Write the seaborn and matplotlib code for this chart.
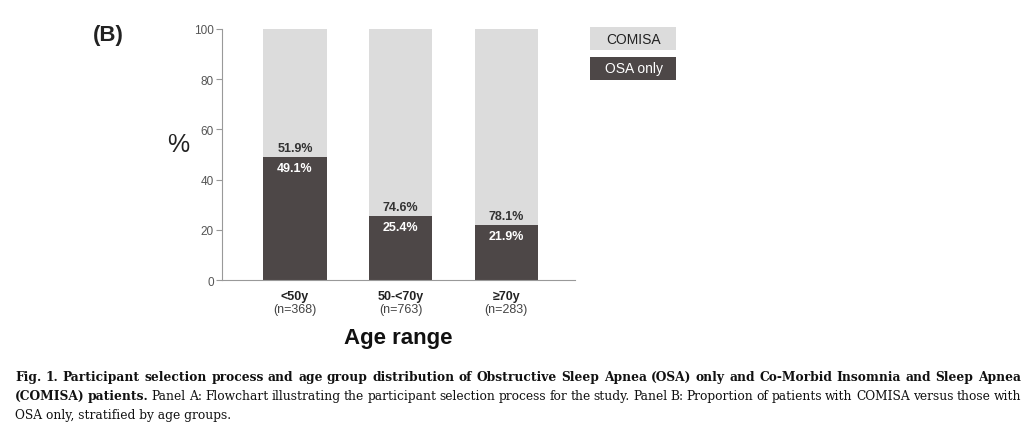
import matplotlib
matplotlib.use("Agg")
import matplotlib.pyplot as plt
from matplotlib.patches import Rectangle
import seaborn as sns
import pandas as pd

# data
groups = ["<50y", "50-<70y", "\u226570y"]
group_n = ["(n=368)", "(n=763)", "(n=283)"]
comisa_pct = [51.9, 74.6, 78.1]
osa_only_pct = [49.1, 25.4, 21.9]

LIGHT = "#dcdcdc"
DARK = "#4d4747"
W, H = 1025, 439

sns.set_style("white")
plt.rcParams["font.family"] = ["Liberation Sans", "DejaVu Sans"]

df = pd.DataFrame({"group": groups, "comisa": comisa_pct, "osa": osa_only_pct})
df["total"] = 100

fig = plt.figure(figsize=(W / 100, H / 100), dpi=100)
ax = fig.add_axes([222 / W, 1 - 281 / H, (575 - 222) / W, (281 - 30) / H])

sns.barplot(data=df, x="group", y="total", color=LIGHT, width=0.6, ax=ax,
            saturation=1, linewidth=0)
sns.barplot(data=df, x="group", y="osa", color=DARK, width=0.6, ax=ax,
            saturation=1, linewidth=0)

ax.set_xlim(-0.69, 2.65)
ax.set_ylim(0, 100)
ax.set_yticks([0, 20, 40, 60, 80, 100])
ax.tick_params(axis="y", length=4, width=0.8, color="#999999", labelsize=8.5,
               labelcolor="#555555", pad=2, left=True)
ax.tick_params(axis="x", length=0, pad=7)
ax.set_xticks(range(len(groups)))
ax.set_xticklabels(groups, fontweight="bold", fontsize=9, color="#222222")
for s in ["top", "right"]:
    ax.spines[s].set_visible(False)
for s in ["left", "bottom"]:
    ax.spines[s].set_color("#999999")
    ax.spines[s].set_linewidth(0.8)

ax.set_xlabel("Age range", fontsize=16, fontweight="bold", labelpad=18,
              color="#111111")
ax.set_ylabel("%", fontsize=18, rotation=0, color="#222222")
ax.yaxis.set_label_coords(-0.125, 0.494)

for i in range(len(groups)):
    b = osa_only_pct[i]
    ax.annotate(f"{comisa_pct[i]:.1f}%", xy=(i, b), xytext=(0, 2),
                textcoords="offset points", ha="center", va="bottom",
                fontsize=9, fontweight="bold", color="#333333")
    ax.annotate(f"{b:.1f}%", xy=(i, b), xytext=(0, -3.5),
                textcoords="offset points", ha="center", va="top",
                fontsize=9, fontweight="bold", color="white")
    ax.annotate(group_n[i], xy=(i, 0), xycoords=("data", "axes fraction"),
                xytext=(0, -21), textcoords="offset points", ha="center",
                va="center", fontsize=9, color="#444444")

fig.text(93 / W, 1 - 35 / H, "(B)", fontsize=16, fontweight="bold",
         ha="left", va="center", color="#222222")

# legend boxes with text inside
for label, col, tcol, top in [("COMISA", LIGHT, "#222222", 28),
                              ("OSA only", DARK, "white", 58)]:
    fig.patches.append(Rectangle((590 / W, 1 - (top + 23) / H), 86 / W, 23 / H,
                                 transform=fig.transFigure, facecolor=col,
                                 edgecolor="none"))
    fig.text(634 / W, 1 - (top + 11.5) / H, label, fontsize=10, color=tcol,
             ha="center", va="center")

# caption
serif = ["DejaVu Serif"]
renderer = fig.canvas.get_renderer()

line3 = "OSA only, stratified by age groups."
probe = fig.text(0, 0, line3, family=serif, fontsize=10)
cap_size = 10 * 217 / probe.get_window_extent(renderer).width
probe.remove()


def justified(words, base_y, x0=15, x1=1021):
    objs = []
    for w, wt in words:
        t = fig.text(0, 1 - base_y / H, w, family=serif, fontsize=cap_size,
                     fontweight=wt, ha="left", va="baseline", color="#111111")
        objs.append(t)
    widths = [t.get_window_extent(renderer).width for t in objs]
    gap = (x1 - x0 - sum(widths)) / (len(objs) - 1)
    x = x0
    for t, wd in zip(objs, widths):
        t.set_x(x / W)
        x += wd + gap


line1 = ("Fig. 1. Participant selection process and age group distribution of "
         "Obstructive Sleep Apnea (OSA) only and Co-Morbid Insomnia and Sleep Apnea")
justified([(w, "bold") for w in line1.split()], 381)
l2b = "(COMISA) patients."
l2n = ("Panel A: Flowchart illustrating the participant selection process for the "
       "study. Panel B: Proportion of patients with COMISA versus those with")
justified([(w, "bold") for w in l2b.split()] + [(w, "normal") for w in l2n.split()], 400)
fig.text(15 / W, 1 - 419 / H, line3, family=serif, fontsize=cap_size,
         ha="left", va="baseline", color="#111111")

fig.savefig("out.png", dpi=100)
